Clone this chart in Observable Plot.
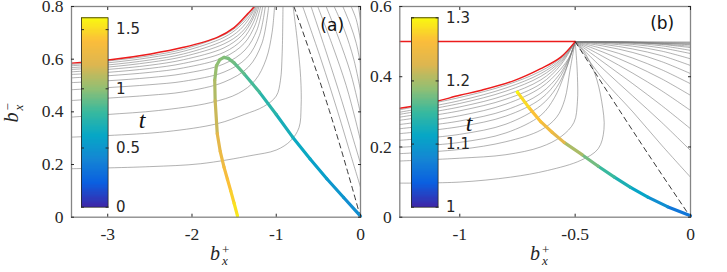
<!DOCTYPE html>
<html><head><meta charset="utf-8">
<script src="https://cdn.jsdelivr.net/npm/d3@7"></script>
<script src="https://cdn.jsdelivr.net/npm/@observablehq/plot@0.6"></script>
<style>
body{margin:0;background:#fff;}
#wrap{position:relative;width:727px;height:272px;overflow:hidden;background:#fff;}
#wrap > .pane{position:absolute;top:0;}
.lab{position:absolute;font-family:"Liberation Serif",serif;font-size:20px;white-space:nowrap;line-height:1;color:#262626;}
.lab .b{font-style:italic;}
.ss{display:inline-block;vertical-align:middle;font-size:13px;line-height:11px;margin-left:2px;text-align:left;}
.ss span{display:block;}
.rot{transform:rotate(-90deg);transform-origin:center center;}
</style></head><body>
<div id="wrap"></div>
<script>
// ---------- data ----------
const panelLabels = ["(a)", "(b)"];
const xTicksA = [-3, -2, -1, 0];
const yTicksA = [0, 0.2, 0.4, 0.6, 0.8];
const xTicksB = [-1, -0.5, 0];
const yTicksB = [0, 0.2, 0.4, 0.6];
const cbTicksA = [0, 0.5, 1, 1.5];
const cbTicksB = [1, 1.1, 1.2, 1.3];
const cbLabel = "t";
const parula = ["#3e26a8","#0a5fe0","#1485d4","#06a7c6","#38b99e","#92bf73","#ddb650","#fbbd3a","#f9fb0e"];

// panel (a): boundary (red)
const redA = [[-3.43,0.585],[-2.97,0.598],[-2.49,0.62],[-2.10,0.645],[-1.70,0.683],[-1.50,0.72],[-1.34,0.772],[-1.26,0.8],[-1.24,0.81]];
// panel (a): curves coming from the left
const grayLeftA = [
  [[-3.43,0.184],[-2.5,0.192],[-1.9,0.203],[-1.3,0.234],[-1.0,0.255],[-0.83,0.29],[-0.73,0.34],[-0.705,0.42],[-0.71,0.53],[-0.75,0.67],[-0.80,0.8]],
  [[-3.43,0.304],[-3.0,0.31],[-2.3,0.325],[-1.7,0.355],[-1.38,0.39],[-1.15,0.42],[-1.0,0.46],[-0.95,0.52],[-0.93,0.62],[-0.92,0.8]],
  [[-3.43,0.38],[-3.0,0.39],[-2.4,0.405],[-1.78,0.435],[-1.45,0.47],[-1.25,0.52],[-1.12,0.6],[-1.05,0.7],[-1.02,0.8]],
  [[-3.43,0.443],[-3.0,0.452],[-2.5,0.463],[-2.1,0.476],[-1.62,0.513],[-1.33,0.57],[-1.17,0.66],[-1.09,0.8]],
  [[-3.43,0.484],[-3.0,0.492],[-2.5,0.503],[-2.1,0.516],[-1.62,0.551],[-1.35,0.605],[-1.2,0.69],[-1.13,0.8]],
  [[-3.43,0.511],[-3.0,0.518],[-2.5,0.530],[-2.1,0.545],[-1.62,0.582],[-1.37,0.635],[-1.23,0.71],[-1.16,0.8]],
  [[-3.43,0.529],[-3.0,0.537],[-2.5,0.550],[-2.1,0.567],[-1.62,0.607],[-1.38,0.66],[-1.25,0.73],[-1.185,0.8]],
  [[-3.43,0.542],[-3.0,0.550],[-2.5,0.565],[-2.1,0.584],[-1.62,0.626],[-1.40,0.675],[-1.27,0.74],[-1.205,0.8]],
  [[-3.43,0.552],[-3.0,0.561],[-2.5,0.577],[-2.1,0.598],[-1.62,0.643],[-1.41,0.69],[-1.29,0.745],[-1.22,0.8]],
  [[-3.43,0.561],[-3.0,0.570],[-2.5,0.588],[-2.1,0.610],[-1.62,0.658],[-1.42,0.70],[-1.30,0.75],[-1.235,0.8]],
  [[-3.43,0.568],[-3.0,0.578],[-2.5,0.597],[-2.1,0.620],[-1.62,0.671],[-1.43,0.712],[-1.31,0.76],[-1.245,0.8]],
  [[-3.43,0.575],[-3.0,0.586],[-2.5,0.606],[-2.1,0.630],[-1.62,0.683],[-1.45,0.72],[-1.32,0.765],[-1.255,0.8]],
  [[-3.43,0.580],[-3.0,0.593],[-2.5,0.613],[-2.1,0.638],[-1.62,0.692],[-1.45,0.728],[-1.33,0.77],[-1.265,0.8]]
];
// panel (a): curves coming down from the top
const grayRightA = [
  [[-0.686,0.8],[-0.47,0.6],[-0.27,0.4],[-0.11,0.23],[0,0.114]],
  [[-0.587,0.8],[-0.40,0.62],[-0.22,0.44],[-0.08,0.29],[0,0.204]],
  [[-0.507,0.8],[-0.33,0.65],[-0.17,0.5],[-0.06,0.37],[0,0.291]],
  [[-0.408,0.8],[-0.26,0.68],[-0.12,0.55],[-0.04,0.45],[0,0.394]],
  [[-0.313,0.8],[-0.19,0.71],[-0.08,0.6],[0,0.481]],
  [[-0.21,0.8],[-0.12,0.73],[-0.05,0.66],[0,0.583]],
  [[-0.111,0.8],[-0.05,0.75],[0,0.671]],
  [[-0.024,0.8],[0,0.747]]
];
const dashedA = [[-0.79,0.8],[-0.37,0.405],[0,0]];
// panel (a): trajectory coloured by t
const trajAx = [0,-0.2,-0.4,-0.6,-0.805,-1.0,-1.2,-1.38,-1.5,-1.57,-1.62,-1.67,-1.71,-1.73,-1.725,-1.70,-1.665,-1.62,-1.58,-1.54,-1.5,-1.46];
const trajAy = [0.004,0.075,0.146,0.222,0.304,0.39,0.475,0.544,0.586,0.603,0.607,0.598,0.575,0.52,0.443,0.317,0.25,0.19,0.145,0.1,0.053,0.005];
const trajAt = [0.45,0.5,0.56,0.62,0.67,0.74,0.83,0.89,0.93,0.95,0.97,0.99,1.02,1.08,1.15,1.25,1.3,1.36,1.41,1.46,1.52,1.58];

// panel (b)
const redLineB = [[-1.26,0.5],[-0.5,0.5]];
const redB = [[-1.26,0.31],[-1.127,0.326],[-1.0,0.347],[-0.91,0.361],[-0.765,0.389],[-0.649,0.423],[-0.562,0.456],[-0.5,0.5]];
const grayLeftB = [
  [[-1.26,0.097],[-1.0,0.1],[-0.78,0.114],[-0.62,0.133],[-0.475,0.162],[-0.4,0.195],[-0.375,0.25],[-0.385,0.33],[-0.415,0.41],[-0.46,0.47],[-0.5,0.5]],
  [[-1.26,0.160],[-1.0,0.168],[-0.8,0.178],[-0.649,0.2],[-0.56,0.23],[-0.505,0.27],[-0.49,0.33],[-0.49,0.4],[-0.495,0.46],[-0.5,0.5]],
  [[-1.26,0.181],[-1.0,0.193],[-0.8,0.215],[-0.649,0.248],[-0.58,0.285],[-0.545,0.335],[-0.522,0.42],[-0.5,0.5]],
  [[-1.26,0.199],[-1.0,0.213],[-0.8,0.24],[-0.649,0.29],[-0.59,0.34],[-0.55,0.4],[-0.52,0.46],[-0.5,0.5]],
  [[-1.26,0.219],[-1.0,0.236],[-0.8,0.265],[-0.649,0.318],[-0.58,0.37],[-0.535,0.43],[-0.5,0.5]],
  [[-1.26,0.238],[-1.0,0.258],[-0.8,0.288],[-0.649,0.337],[-0.575,0.39],[-0.53,0.445],[-0.5,0.5]],
  [[-1.26,0.252],[-1.0,0.274],[-0.8,0.305],[-0.649,0.353],[-0.57,0.405],[-0.525,0.455],[-0.5,0.5]],
  [[-1.26,0.264],[-1.0,0.289],[-0.8,0.322],[-0.649,0.369],[-0.565,0.42],[-0.52,0.462],[-0.5,0.5]],
  [[-1.26,0.276],[-1.0,0.303],[-0.8,0.336],[-0.649,0.380],[-0.562,0.434],[-0.5,0.5]],
  [[-1.26,0.285],[-1.0,0.314],[-0.8,0.348],[-0.649,0.391],[-0.562,0.44],[-0.5,0.5]],
  [[-1.26,0.293],[-1.0,0.324],[-0.8,0.359],[-0.649,0.401],[-0.562,0.445],[-0.5,0.5]],
  [[-1.26,0.299],[-1.0,0.332],[-0.8,0.368],[-0.649,0.409],[-0.562,0.449],[-0.5,0.5]],
  [[-1.26,0.306],[-1.0,0.341],[-0.8,0.376],[-0.649,0.416],[-0.562,0.453],[-0.5,0.5]]
];
const grayRightB = [
  [[-0.5,0.5],[-0.375,0.39],[-0.25,0.3],[-0.125,0.205],[0,0.114]],
  [[-0.5,0.5],[-0.375,0.42],[-0.25,0.345],[-0.125,0.27],[0,0.19]],
  [[-0.5,0.5],[-0.375,0.44],[-0.25,0.38],[-0.125,0.318],[0,0.252]],
  [[-0.5,0.5],[-0.375,0.456],[-0.25,0.41],[-0.125,0.36],[0,0.304]],
  [[-0.5,0.5],[-0.375,0.469],[-0.25,0.434],[-0.125,0.394],[0,0.347]],
  [[-0.5,0.5],[-0.375,0.479],[-0.25,0.453],[-0.125,0.42],[0,0.38]],
  [[-0.5,0.5],[-0.375,0.487],[-0.25,0.469],[-0.125,0.443],[0,0.409]],
  [[-0.5,0.5],[-0.375,0.492],[-0.25,0.479],[-0.125,0.46],[0,0.432]],
  [[-0.5,0.5],[-0.375,0.495],[-0.25,0.487],[-0.125,0.473],[0,0.451]],
  [[-0.5,0.5],[-0.375,0.497],[-0.25,0.492],[-0.125,0.482],[0,0.466]],
  [[-0.5,0.5],[-0.25,0.495],[-0.125,0.488],[0,0.475]],
  [[-0.5,0.5],[-0.25,0.497],[-0.125,0.492],[0,0.483]],
  [[-0.5,0.5],[-0.25,0.498],[0,0.487]],
  [[-0.5,0.5],[-0.25,0.499],[0,0.491]],
  [[-0.5,0.5],[0,0.493]],
  [[-0.5,0.5],[0,0.495]],
  [[-0.5,0.5],[0,0.497]],
  [[-0.5,0.5],[0,0.499]]
];
const dashedB = [[-0.5,0.5],[-0.229,0.225],[-0.01,0.01]];
const trajBx = [0,-0.1,-0.185,-0.26,-0.33,-0.40,-0.47,-0.548,-0.60,-0.649,-0.70,-0.75];
const trajBy = [0.004,0.03,0.057,0.085,0.114,0.145,0.178,0.213,0.242,0.272,0.312,0.356];
const trajBt = [1.06,1.085,1.11,1.13,1.15,1.175,1.2,1.235,1.25,1.265,1.28,1.3];

// ---------- drawing ----------
const SERIF = '"Liberation Serif", serif';
const SANS = '"DejaVu Sans", sans-serif';
const rows = (curves) => curves.flatMap((c, i) => c.map(([x, y]) => ({x, y, id: i})));
const pts = (arr) => arr.map(([x, y]) => ({x, y}));
const traj = (xs, ys, ts) => xs.map((x, i) => ({x, y: ys[i], t: ts[i]}));
const fmt = d => String(d);
const parulaInterp = d3.piecewise(d3.interpolateRgb, parula);

function panel(o) {
  return Plot.plot({
    width: o.width, height: 272,
    marginLeft: o.marginLeft, marginRight: o.marginRight, marginTop: 6, marginBottom: 55.3,
    style: {background: "transparent", overflow: "visible"},
    x: {domain: o.xDomain, axis: null},
    y: {domain: o.yDomain, axis: null},
    color: {type: "linear", domain: o.tDomain, interpolate: parulaInterp},
    marks: [
      Plot.line(rows(o.grayLeft), {x: "x", y: "y", z: "id", stroke: "#7d7d7d", strokeWidth: 0.6, curve: "catmull-rom", clip: true}),
      Plot.line(rows(o.grayRight), {x: "x", y: "y", z: "id", stroke: "#7d7d7d", strokeWidth: 0.6, curve: "catmull-rom", clip: true}),
      ...o.red.map(r => Plot.line(pts(r), {x: "x", y: "y", stroke: "#ec1c1c", strokeWidth: 1.5, curve: "catmull-rom", clip: true})),
      Plot.line(pts(o.dashed), {x: "x", y: "y", stroke: "#222", strokeWidth: 0.9, strokeDasharray: "5,4", curve: "natural", clip: true}),
      Plot.line(o.traj, {x: "x", y: "y", z: null, stroke: "t", strokeWidth: 3.2, strokeLinecap: "round", curve: "linear"}),
      Plot.frame({stroke: "#858585", strokeWidth: 1.3}),
      Plot.axisX(o.xTicks, {anchor: "bottom", tickSize: -3, tickPadding: 13, tickFormat: fmt, fontSize: 17.5, color: "#262626", label: null}),
      Plot.axisX(o.xTicks, {anchor: "top", tickSize: -3, tickFormat: () => "", color: "#262626", label: null}),
      Plot.axisY(o.yTicks, {anchor: "left", tickSize: -3, tickPadding: 11, tickFormat: fmt, fontSize: 17.5, color: "#262626", label: null}),
      Plot.axisY(o.yTicks, {anchor: "right", tickSize: -3, tickFormat: () => "", color: "#262626", label: null}),
      Plot.text([o.label], {frameAnchor: "top-right", textAnchor: "middle", lineAnchor: "middle", dx: -28.3, dy: o.labelDy, fontSize: 17, fontFamily: SANS, fill: "#111"})
    ]
  });
}

function colorbar(o) {
  const step = (o.tDomain[1] - o.tDomain[0]) / 160;
  const bands = d3.range(o.tDomain[0], o.tDomain[1], step);
  return Plot.plot({
    width: 80, height: 272,
    marginLeft: 0, marginRight: 53.4, marginTop: 17.3, marginBottom: 65.3,
    style: {background: "transparent", overflow: "visible"},
    x: {domain: [0, 1], axis: null},
    y: {domain: o.tDomain, axis: null},
    color: {type: "linear", domain: o.tDomain, interpolate: parulaInterp},
    marks: [
      Plot.rect(bands, {x1: 0, x2: 1, y1: d => d, y2: d => Math.min(o.tDomain[1], d + step * 2), fill: d => d + step / 2, shapeRendering: "crispEdges"}),
      Plot.frame({stroke: "#262626", strokeWidth: 0.8}),
      Plot.axisY(o.ticks, {anchor: "right", tickSize: -3, tickPadding: 11, tickFormat: fmt, fontSize: 15, color: "#262626", label: null}),
      Plot.axisY(o.ticks, {anchor: "left", tickSize: -3, tickFormat: () => "", color: "#262626", label: null}),
      Plot.text([cbLabel], {frameAnchor: "right", textAnchor: "middle", lineAnchor: "middle", dx: o.labelDx, dy: o.labelDy, fontSize: 24, fontFamily: SERIF, fontStyle: "italic", fill: "#111"})
    ]
  });
}

const wrap = document.getElementById("wrap");
function place(node, left, family) {
  node.classList.add("pane");
  node.style.left = left + "px";
  // tick labels: serif (LaTeX-like) on the axes, sans on the colour bars
  node.querySelectorAll("text").forEach(t => {
    if (/^-?[0-9.]+$/.test(t.textContent.trim())) t.style.fontFamily = family;
  });
  wrap.appendChild(node);
}

place(panel({
  width: 363, marginLeft: 71, marginRight: 3,
  xDomain: [-3.43, 0], yDomain: [0, 0.8], tDomain: [0, 1.6],
  xTicks: xTicksA, yTicks: yTicksA,
  grayLeft: grayLeftA, grayRight: grayRightA, red: [redA], dashed: dashedA,
  traj: traj(trajAx, trajAy, trajAt), label: panelLabels[0], labelDy: 19
}), 0, SERIF);

place(panel({
  width: 364, marginLeft: 36.3, marginRight: 37,
  xDomain: [-1.26, 0], yDomain: [0, 0.6], tDomain: [1, 1.3],
  xTicks: xTicksB, yTicks: yTicksB,
  grayLeft: grayLeftB, grayRight: grayRightB, red: [redLineB, redB], dashed: dashedB,
  traj: traj(trajBx, trajBy, trajBt), label: panelLabels[1], labelDy: 17.3
}), 363, SERIF);

place(colorbar({tDomain: [0, 1.6], ticks: cbTicksA, labelDx: 34, labelDy: 8}), 80.7, SANS);
place(colorbar({tDomain: [1, 1.3], ticks: cbTicksB, labelDx: 31, labelDy: 11}), 410.7, SANS);

// axis titles (b_x^+ and b_x^-)
function axisTitle(sign, left, top, rotate) {
  const d = document.createElement("div");
  d.className = "lab" + (rotate ? " rot" : "");
  d.style.left = left + "px";
  d.style.top = top + "px";
  d.innerHTML = '<span class="b">b</span><span class="ss"><span>' + sign + '</span><span class="b">x</span></span>';
  wrap.appendChild(d);
}
axisTitle("+", 210, 243, false);
axisTitle("+", 530, 243, false);
axisTitle("\u2212", 3, 101, true);
</script>
</body></html>
